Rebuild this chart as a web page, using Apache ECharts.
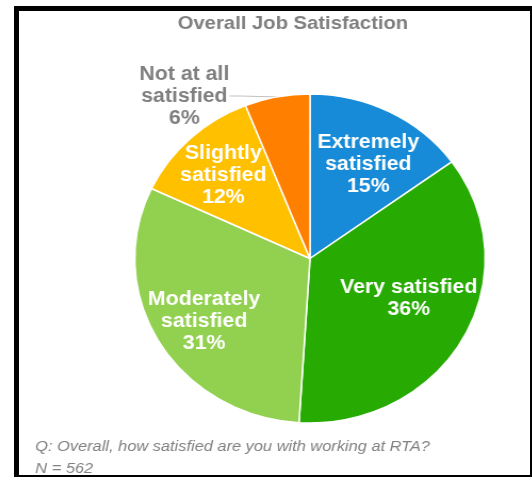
<!DOCTYPE html>
<html>
<head>
<meta charset="utf-8">
<script src="https://cdn.jsdelivr.net/npm/echarts@6/dist/echarts.min.js"></script>
<style>
  html, body { margin: 0; padding: 0; background: #fff; overflow: hidden; }
  #wrap { position: relative; width: 532px; height: 477px; overflow: hidden; }
  /* the source picture is stretched a little in width */
  #chart { position: absolute; left: 0; top: 0; width: 532px; height: 477px;
           transform: scaleX(1.065); transform-origin: 310px 0; }
  #frame { position: absolute; left: 14px; top: 6px; width: 518px; height: 471px;
           box-sizing: border-box; border-style: solid; border-color: #000;
           border-width: 5px 2px 2px 5px; pointer-events: none; }
</style>
</head>
<body>
<div id="wrap">
  <div id="chart"></div>
  <div id="frame"></div>
</div>
<script>
  var categories = ['Extremely\nsatisfied', 'Very satisfied', 'Moderately\nsatisfied', 'Slightly\nsatisfied', 'Not at all\nsatisfied'];
  var values = [15, 36, 31, 12, 6];
  var colors = ['#178bd7', '#27ab03', '#92d050', '#ffc000', '#ff8000'];

  var titleText = 'Overall Job Satisfaction';
  var noteLines = ['Q: Overall, how satisfied are you with working at RTA?', 'N = 562'];

  // label nudges from the default inside spot
  var labelShift = [[16, -18], [18, -1], [-26, 20], [-23, -21]];

  var font = 'Arial, "Liberation Sans", sans-serif';
  var chart = echarts.init(document.getElementById('chart'));

  var pieData = categories.map(function (name, i) {
    var item = { name: name, value: values[i], itemStyle: { color: colors[i] } };
    if (i === 4) {
      item.label = {
        position: 'outside',
        color: '#7f7f7f',
        formatter: function (p) {
          return p.name.split('\n').map(function (s) { return '{c|' + s + '}'; }).join('\n') + '\n{c|' + p.value + '%}';
        },
        rich: { c: { align: 'center', fontSize: 20, fontWeight: 'bold', lineHeight: 22, color: '#7f7f7f', fontFamily: font } }
      };
      item.labelLine = { show: true, length: 12, length2: 10, lineStyle: { color: '#c0c0c0', width: 1 } };
    }
    return item;
  });

  chart.setOption({
    animation: false,
    title: {
      text: titleText,
      left: 289,
      top: 9,
      textAlign: 'center',
      textStyle: { fontSize: 19, fontWeight: 'bold', color: '#7f7f7f', fontFamily: font }
    },
    graphic: noteLines.map(function (t, i) {
      return {
        type: 'text',
        left: 52,
        top: 439 + i * 22,
        style: { text: t, fontSize: 15.4, fontStyle: 'italic', fill: '#808080', fontFamily: font }
      };
    }),
    series: [{
      type: 'pie',
      center: [310, 258.5],
      radius: [0, 164.5],
      startAngle: 90,
      clockwise: true,
      avoidLabelOverlap: false,
      itemStyle: { borderColor: '#fff', borderWidth: 1.5 },
      label: {
        show: true,
        position: 'inside',
        formatter: '{b}\n{c}%',
        color: '#fff',
        fontSize: 20,
        fontWeight: 'bold',
        lineHeight: 22,
        fontFamily: font
      },
      labelLayout: function (params) {
        var i = params.dataIndex;
        if (i < labelShift.length) {
          return { dx: labelShift[i][0], dy: labelShift[i][1] };
        }
        return { x: 192, y: 96, align: 'center', verticalAlign: 'middle' };
      },
      data: pieData
    }]
  });
</script>
</body>
</html>
